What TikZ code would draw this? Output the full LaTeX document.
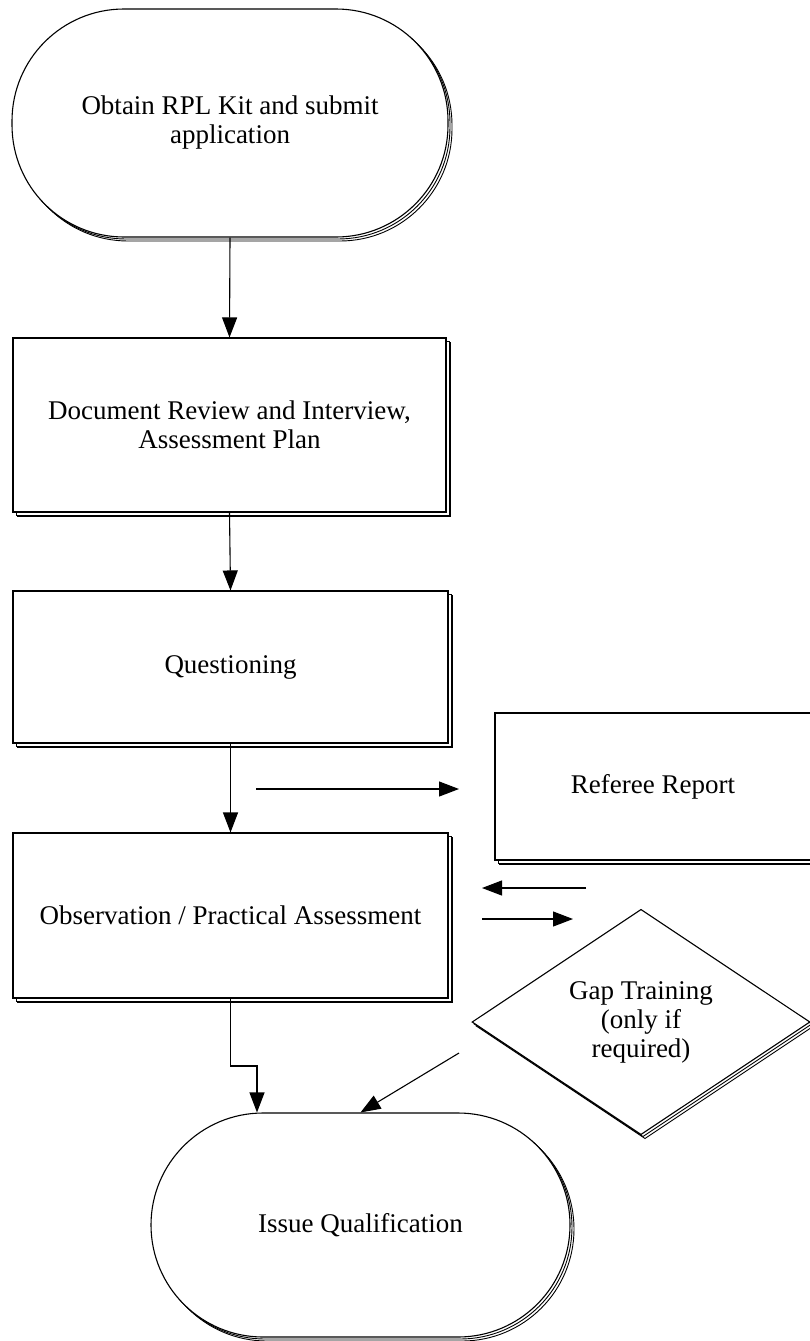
\documentclass[tikz,border=0pt]{standalone}
\usepackage{fontspec}
\setmainfont{Liberation Serif}
\usetikzlibrary{arrows.meta,shapes.geometric,shadows}
\begin{document}
\begin{tikzpicture}[x=1pt,y=-1pt,
  ln/.style={line width=1.1pt},
  arr/.style={ln,-{Triangle[length=20pt,width=15pt]}},
  boxshadow/.style={
    general shadow={shadow xshift=4.5pt,shadow yshift=-4.5pt,draw=black,fill=white,line width=1pt},
    general shadow={shadow xshift=3.5pt,shadow yshift=-3.5pt,draw=black,fill=white,line width=1pt}},
  softshadow/.style={
    general shadow={shadow xshift=4pt,shadow yshift=-4pt,draw=black,fill=white,line width=0.9pt},
    general shadow={shadow xshift=2pt,shadow yshift=-2pt,draw=black,fill=white,line width=0.9pt}},
  txt/.style={font=\fontsize{27}{29}\selectfont,align=center,inner sep=0pt},
  procbox/.style={txt,ln,draw=black,fill=white,rectangle,boxshadow},
  terminal/.style={txt,ln,draw=black,fill=white,rectangle,rounded corners=112pt,softshadow},
  decision/.style={txt,ln,draw=black,fill=white,diamond,softshadow}
]
\useasboundingbox (0,0) rectangle (809,1341);

\node[terminal,minimum width=436pt,minimum height=228pt] (start) at (230,123)
  {Obtain RPL Kit and submit\\application};
\node[procbox,minimum width=433pt,minimum height=174pt] (doc) at (229.5,425)
  {Document Review and Interview,\\Assessment Plan};
\node[procbox,minimum width=435pt,minimum height=152pt] (ques) at (230.5,667)
  {Questioning};
\node[procbox,minimum width=435pt,minimum height=165pt] (obs) at (230.5,915.5)
  {Observation / Practical Assessment};
\node[procbox,minimum width=316pt,minimum height=147pt] (ref) at (653,786.5)
  {Referee Report};
\node[decision,minimum width=338pt,minimum height=212pt] (gap) at (641,1022)
  {Gap Training\\(only if\\required)};
\node[terminal,minimum width=419pt,minimum height=224pt] (issue) at (360.5,1225)
  {Issue Qualification};

\coordinate (r1) at (256,789);
\coordinate (r2) at (459,789);
\coordinate (l1) at (586,888);
\coordinate (l2) at (482,888);
\coordinate (g1) at (482,919);
\coordinate (g2) at (573,919);
\coordinate (e1) at (257,1066);
\coordinate (d1) at (459,1053);

\draw[arr] (start.south) -- (doc.north);
\draw[arr] (doc.south) -- (ques.north);
\draw[arr] (ques.south) -- (obs.north);
\draw[arr] (r1) -- (r2);
\draw[arr] (l1) -- (l2);
\draw[arr] (g1) -- (g2);
\draw[arr] (obs.south) |- (e1) -- (e1 |- issue.north);
\draw[arr] (d1) -- (issue.north);
\end{tikzpicture}
\end{document}
